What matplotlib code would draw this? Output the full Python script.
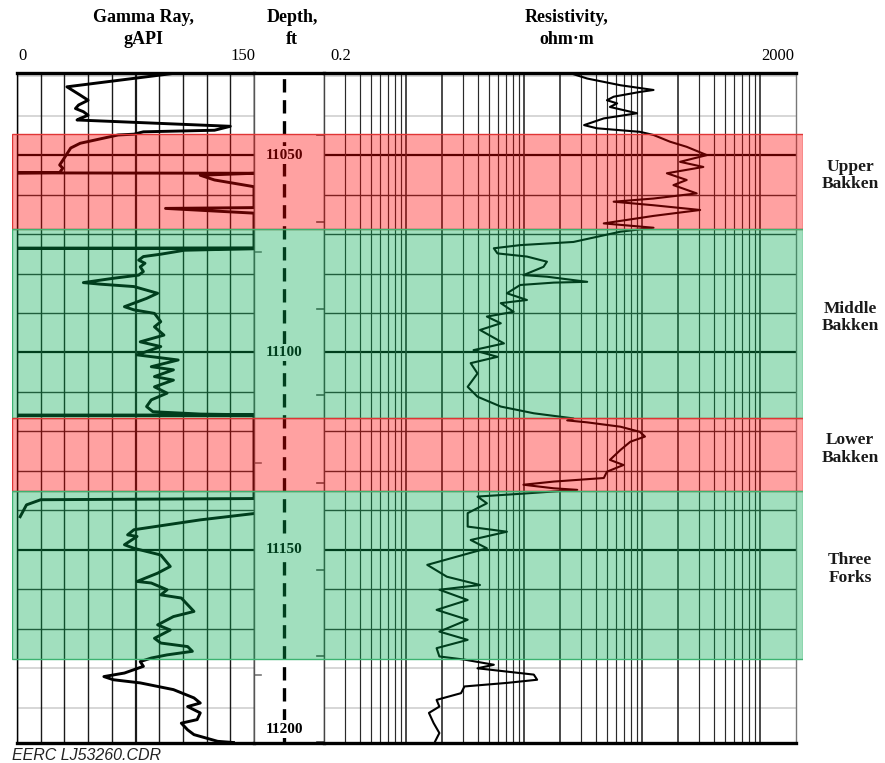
import numpy as np
import matplotlib
matplotlib.use("Agg")
import matplotlib.pyplot as plt
from matplotlib.transforms import blended_transform_factory

# ---------------- data ----------------
depth_top, depth_bottom = 11029.2, 11199.0
gr_min, gr_max = 0, 150
res_min, res_max = 0.2, 2000

zone_names = ["Upper\nBakken", "Middle\nBakken", "Lower\nBakken", "Three\nForks"]
zone_tops = [11044.7, 11068.6, 11116.7, 11135.1]
zone_bases = [11068.6, 11116.7, 11135.1, 11177.6]
zone_kind = ["shale", "siltstone", "shale", "siltstone"]

depth_labels = [11050, 11100, 11150, 11200]
depth_ticks_right = [11044.9, 11067.0, 11089.0, 11110.8, 11133.0, 11155.0, 11176.8, 11198.7]
depth_ticks_left = [11074.5, 11128.0, 11181.6]

gr_depth = [11029.3, 11032.7, 11034.8, 11036.1, 11037.3, 11038.2, 11039.0, 11039.9, 11040.7,
            11041.1, 11042.7, 11043.7, 11044.1, 11044.7, 11044.9, 11047.0, 11048.2, 11051.3,
            11052.5, 11053.3, 11054.4, 11054.5, 11054.6, 11055.1, 11056.3, 11058.0, 11063.3,
            11063.5, 11064.7, 11073.5, 11073.6, 11073.7,
            11074.1, 11075.1, 11075.7, 11076.6, 11077.4, 11078.3, 11079.5, 11080.4, 11081.2,
            11082.3, 11082.7, 11083.3, 11085.0, 11086.3, 11088.4, 11089.2, 11090.1, 11092.2,
            11093.5, 11095.6, 11097.3, 11098.5, 11100.6, 11101.9, 11103.6, 11104.4, 11106.1,
            11107.0, 11108.7, 11110.3, 11112.0, 11113.7, 11115.0, 11115.6, 11115.8, 11115.9,
            11116.0, 11137.0, 11137.3, 11138.6, 11141.6, 11141.65,
            11140.8, 11142.4, 11144.9, 11146.2, 11146.6, 11148.7, 11149.6, 11151.3, 11154.2,
            11155.9, 11158.0, 11158.4, 11160.1, 11161.4, 11162.2, 11165.6, 11166.9, 11169.0,
            11170.3, 11172.4, 11173.6, 11174.5, 11175.7, 11176.6, 11177.4, 11178.3, 11179.5,
            11181.2, 11182.1, 11182.9, 11183.7, 11185.4, 11187.5, 11188.8, 11189.7, 11191.3,
            11193.0, 11193.9, 11195.6, 11196.8, 11198.5, 11198.8]
gr_value = [99, 31.6, 40, 45, 39, 37, 42, 45, 40,
            38, 135, 125, 80, 74, 64, 40, 34, 29,
            27, 29, 27, 0, 150, 116, 125, 150, 150,
            94, 150, 150, 0, 150,
            106, 91, 80, 77, 81, 78, 80, 77, 61,
            42, 53, 74, 89, 82, 68, 74, 87, 91,
            87, 93, 78, 91, 76, 102, 85, 99, 87,
            99, 87, 95, 85, 82, 86, 116, 150, 0,
            150, 150, 15, 6, 2, np.nan,
            150, 116, 74, 70, 76, 68, 74, 91, 97,
            89, 76, 85, 95, 91, 104, 112, 99, 89,
            97, 87, 91, 108, 111, 95, 85, 78, 80,
            68, 55, 61, 78, 99, 112, 116, 108, 116,
            114, 104, 108, 112, 127, 137]

res_depth = [11029.5, 11030.6, 11032.3, 11033.5, 11034.0, 11035.2, 11036.1, 11036.9, 11037.8,
             11039.4, 11040.7, 11042.4, 11043.2, 11044.1, 11044.9, 11046.6, 11047.9, 11050.0,
             11051.7, 11053.0, 11054.6, 11056.3, 11057.6, 11059.7, 11061.0, 11061.8, 11062.7,
             11063.9, 11065.4, 11067.3, 11068.4, 11069.4, 11072.0, 11072.8, 11073.6, 11074.9,
             11075.7, 11077.0, 11078.3, 11080.4, 11080.8, 11082.1, 11082.3, 11082.9, 11085.0,
             11086.7, 11087.5, 11089.7, 11090.9, 11092.6, 11094.3, 11097.7, 11099.4, 11101.1,
             11102.7, 11105.3, 11108.7, 11111.2, 11113.7, 11115.4, 11116.7, 11117.2, 11117.7,
             11118.8, 11120.1, 11121.3, 11122.6, 11124.7, 11127.2, 11128.5, 11130.2, 11131.8,
             11132.7, 11133.5, 11134.4, 11134.8, 11135.8, 11136.5, 11138.2, 11140.7, 11144.1,
             11145.4, 11147.5, 11149.6, 11153.8, 11156.8, 11158.9, 11160.1, 11162.7, 11165.2,
             11167.7, 11170.7, 11172.8, 11174.9, 11177.0, 11177.8, 11179.1, 11180.0, 11181.6,
             11182.9, 11183.7, 11184.6, 11186.3, 11188.0, 11189.7, 11191.3, 11193.9, 11196.4,
             11198.5]
res_value = [26, 34, 65, 124, 95, 57, 50, 61, 53,
             90, 47, 32, 41, 95, 124, 171, 237, 351,
             208, 328, 161, 237, 183, 288, 124, 57, 124,
             308, 124, 47, 124, 65, 26, 9.2, 5.5, 5.9,
             10.5, 15.5, 14.5, 9.8, 15.5, 34, 17.7, 9.2, 7.1,
             10.5, 6.3, 8.1, 4.8, 6.3, 4.2, 6.7, 3.7, 5.9,
             3.5, 4.0, 3.3, 4.0, 6.3, 12, 26, 23, 34,
             65, 95, 105, 79, 65, 53, 69, 50, 47,
             17.7, 9.8, 17.7, 28, 9.2, 4.0, 4.8, 3.3, 3.3,
             7.1, 3.5, 4.8, 1.5, 2.2, 4.2, 1.9, 3.3, 1.8,
             3.3, 1.9, 3.3, 1.8, 1.9, 3.1, 5.5, 4.0, 12,
             12.8, 7.1, 3.1, 2.9, 1.8, 1.9, 1.55, 1.7, 1.9,
             1.75]

# ---------------- layout ----------------
W, H = 885, 763
fig = plt.figure(figsize=(W / 100, H / 100), dpi=100)
fig.patch.set_facecolor("white")

y_top_px, y_bot_px = 73.0, 743.3
ab = 1 - y_bot_px / H
ah = (y_bot_px - y_top_px) / H

def fx(px):
    return px / W

def fy(py):
    return 1 - py / H

ax_gr = fig.add_axes([fx(17), ab, fx(254 - 17), ah])
ax_dp = fig.add_axes([fx(254), ab, fx(324 - 254), ah])
ax_rs = fig.add_axes([fx(324), ab, fx(796 - 324), ah])
ax_ov = fig.add_axes([fx(11.7), ab, fx(802.7 - 11.7), ah], zorder=10)

serif = "Liberation Serif"

in_band = lambda d: any(t < d < b for t, b in zip(zone_tops, zone_bases))
hgrid = np.arange(11030, 11200, 10)

for ax in (ax_gr, ax_dp, ax_rs):
    ax.set_ylim(depth_bottom, depth_top)
    ax.set_xticks([])
    ax.set_yticks([])
    ax.set_facecolor("white")
    ax.spines["top"].set_linewidth(2.4)
    ax.spines["bottom"].set_linewidth(2.4)
    ax.spines["top"].set_color("black")
    ax.spines["bottom"].set_color("black")
    for s in ("left", "right"):
        ax.spines[s].set_linewidth(1.0)
        ax.spines[s].set_color("#555555")

# horizontal depth grid in curve tracks
for ax in (ax_gr, ax_rs):
    for d in hgrid:
        if d % 50 == 0:
            ax.axhline(d, color="black", lw=1.6, zorder=1)
        elif in_band(d):
            ax.axhline(d, color="#333333", lw=1.0, zorder=1)
        else:
            ax.axhline(d, color="#cfcfcf", lw=1.2, zorder=1)

# gamma track
ax_gr.set_xlim(gr_min, gr_max)
for v in np.arange(gr_min, gr_max + 1, 15):
    ax_gr.axvline(v, color="#1a1a1a", lw=1.6 if v == 75 else 1.0, zorder=1)
ax_gr.plot(np.clip(np.array(gr_value, dtype=float), gr_min, gr_max), gr_depth,
           color="black", lw=2.1, zorder=3, solid_joinstyle="round")
ax_gr.spines["left"].set_color("black")

# resistivity track
ax_rs.set_xscale("log")
ax_rs.set_xlim(res_min, res_max)
ax_rs.minorticks_off()
ax_rs.set_xticks([])
for dec in [0.1, 1, 10, 100, 1000]:
    for k in range(2, 11):
        v = k * dec
        if res_min < v < res_max:
            ax_rs.axvline(v, color="#2a2a2a", lw=1.2 if k in (2, 10) else 0.85, zorder=1)
ax_rs.plot(res_value, res_depth, color="black", lw=1.5, zorder=3, solid_joinstyle="round")
ax_rs.spines["left"].set_color("#444444")
ax_rs.spines["right"].set_color("#777777")

# depth track
ax_dp.set_xlim(0, 1)
ax_dp.axvline(0.43, color="black", lw=2.4, linestyle=(0, (4.0, 2.3)), zorder=1)
for d in depth_ticks_right:
    ax_dp.plot([0.9, 1.0], [d, d], color="#555555", lw=1.2, zorder=2)
for d in depth_ticks_left:
    ax_dp.plot([0.0, 0.1], [d, d], color="#777777", lw=1.2, zorder=2)
for d in depth_labels:
    yd = min(d, depth_bottom - 3.6)
    ax_dp.text(0.43, yd, str(d), ha="center", va="center", family=serif,
               fontweight="bold", fontsize=11, color="black", zorder=4,
               bbox=dict(facecolor="white", edgecolor="none", pad=1.5))

# formation bands overlay
ax_ov.set_ylim(depth_bottom, depth_top)
ax_ov.set_xlim(0, 1)
ax_ov.axis("off")
ax_ov.patch.set_alpha(0)
band_fill = {"shale": (1.0, 0.0, 0.0, 0.37), "siltstone": (0.0, 0.667, 0.31, 0.37)}
band_edge = {"shale": "#e03535", "siltstone": "#3cb371"}
for t, b, k in zip(zone_tops, zone_bases, zone_kind):
    ax_ov.axhspan(t, b, facecolor=band_fill[k], edgecolor=band_edge[k], lw=1.0)

trans = blended_transform_factory(fig.transFigure, ax_ov.transData)
for name, t, b in zip(zone_names, zone_tops, zone_bases):
    ax_ov.text(fx(850), (t + b) / 2 - 1.5, name, transform=trans, ha="center", va="center",
               family=serif, fontweight="bold", fontsize=12.5, linespacing=1.15,
               color="#1a1a1a", clip_on=False)

# headers
hdr = dict(ha="center", va="center", family=serif, fontweight="bold", fontsize=13)
fig.text(fx(143), fy(18), "Gamma Ray,", **hdr)
fig.text(fx(143), fy(39), "gAPI", **hdr)
fig.text(fx(292), fy(18), "Depth,", **hdr)
fig.text(fx(292), fy(39), "ft", **hdr)
fig.text(fx(567), fy(18), "Resistivity,", **hdr)
fig.text(fx(567), fy(39), "ohm\u00b7m", **hdr)

fig.text(fx(18), fy(56), f"{gr_min}", ha="left", va="center", family=serif, fontsize=12)
fig.text(fx(255), fy(56), f"{gr_max}", ha="right", va="center", family=serif, fontsize=12)
fig.text(fx(330), fy(56), f"{res_min}", ha="left", va="center", family=serif, fontsize=12)
fig.text(fx(794), fy(56), f"{res_max}", ha="right", va="center", family=serif, fontsize=12)

fig.text(fx(12), fy(755), "EERC LJ53260.CDR", ha="left", va="center",
         family="Liberation Sans", style="italic", fontsize=11.5, color="#222222")

fig.savefig("out.png", dpi=100, facecolor="white")
